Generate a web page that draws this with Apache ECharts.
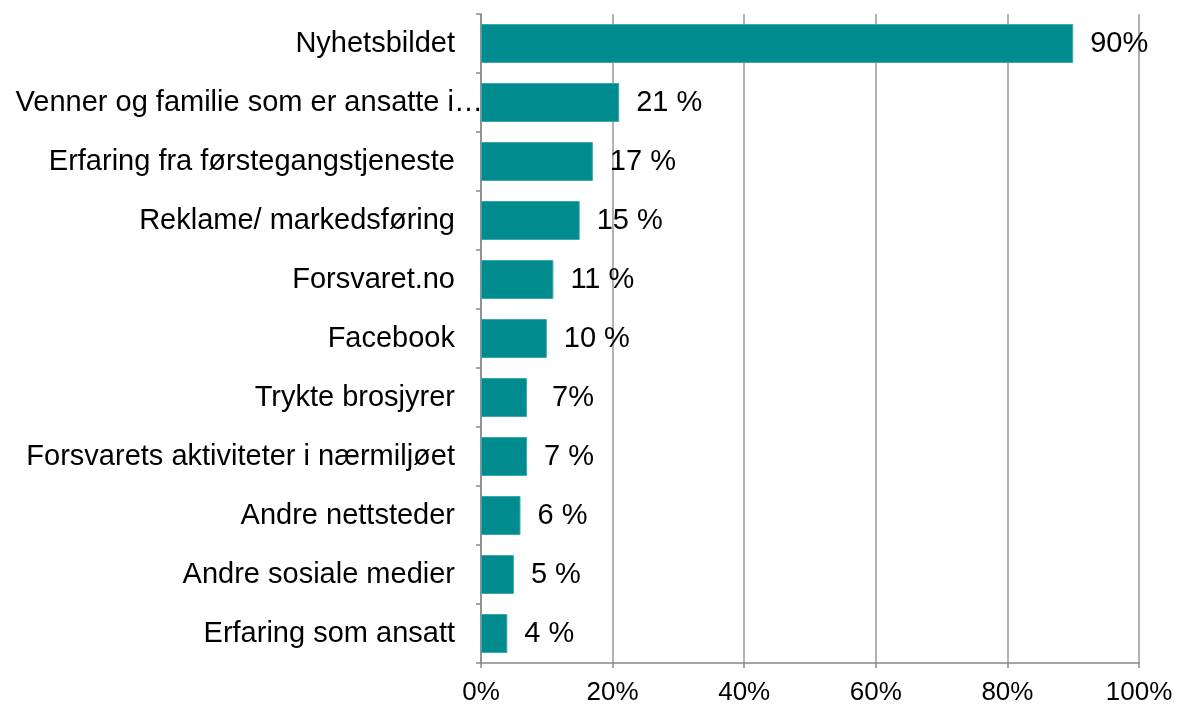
<!DOCTYPE html>
<html>
<head>
<meta charset="utf-8">
<script src="https://cdn.jsdelivr.net/npm/echarts@6/dist/echarts.min.js"></script>
<style>
  html, body { margin: 0; padding: 0; background: #fff; }
  #chart { width: 1181px; height: 707px; }
</style>
</head>
<body>
<div id="chart"></div>
<script>
    // kategorier, verdier og etiketter
    var categories = ['Nyhetsbildet', 'Venner og familie som er ansatte i…', 'Erfaring fra førstegangstjeneste',
        'Reklame/ markedsføring', 'Forsvaret.no', 'Facebook', 'Trykte brosjyrer',
        'Forsvarets aktiviteter i nærmiljøet', 'Andre nettsteder', 'Andre sosiale medier', 'Erfaring som ansatt'];
    var values = [90, 21, 17, 15, 11, 10, 7, 7, 6, 5, 4];
    var valueLabels = ['90%', '21 %', '17 %', '15 %', '11 %', '10 %', '7%', '7 %', '6 %', '5 %', '4 %'];
    var xTicks = [0, 20, 40, 60, 80, 100];

    var font = 'Liberation Sans, Arial, sans-serif';
    var myChart = echarts.init(document.getElementById('chart'));

    var seriesData = [];
    for (var i = 0; i < values.length; i++) {
        seriesData.push({
            value: values[i],
            label: {
                formatter: valueLabels[i],
                // "7%" uten mellomrom står litt lenger ut i originalen
                distance: valueLabels[i].indexOf(' ') < 0 && values[i] < 50 ? 25 : 17
            }
        });
    }

    var catData = [];
    for (var j = 0; j < categories.length; j++) {
        if (categories[j].indexOf('…') >= 0) {
            // den avkortede etiketten går helt inn til aksen
            catData.push({ value: categories[j], textStyle: { padding: [0, -28, 0, 0] } });
        } else {
            catData.push(categories[j]);
        }
    }

    var option = {
        animation: false,
        grid: { left: 481, right: 42, top: 14, bottom: 44 },
        xAxis: {
            type: 'value',
            min: xTicks[0],
            max: xTicks[xTicks.length - 1],
            interval: 20,
            axisLine: { show: true, lineStyle: { color: '#888', width: 1.5 } },
            axisTick: { show: true, length: 5, lineStyle: { color: '#888', width: 1.5 } },
            splitLine: { show: true, lineStyle: { color: '#999', width: 1.5 } },
            axisLabel: {
                color: '#000', fontSize: 26, fontFamily: font, margin: 17,
                formatter: function (v) { return v + '%'; }
            }
        },
        yAxis: {
            type: 'category',
            inverse: true,
            data: catData,
            axisLine: { show: true, lineStyle: { color: '#888', width: 1.5 } },
            axisTick: { show: true, length: 5, lineStyle: { color: '#888', width: 1.5 } },
            axisLabel: { color: '#000', fontSize: 29, fontFamily: font, margin: 26 }
        },
        series: [{
            type: 'bar',
            data: seriesData,
            barCategoryGap: '34%',
            itemStyle: { color: '#008b8f', borderColor: '#3aa9ac', borderWidth: 1 },
            label: {
                show: true,
                position: 'right',
                color: '#000',
                fontSize: 29,
                fontFamily: font
            },
            z: 3
        }]
    };
    myChart.setOption(option);
</script>
</body>
</html>
